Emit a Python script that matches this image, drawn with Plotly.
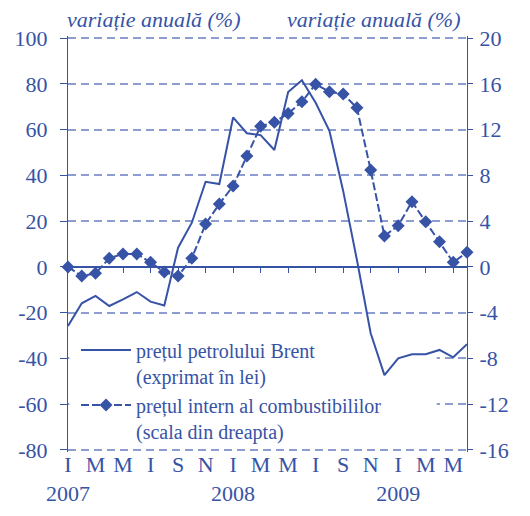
import plotly.graph_objects as go

# Months: Jan 2007 .. Jun 2009 (index 0..29)
month_idx = list(range(30))

brent = [-25.8, -15.9, -12.7, -17.1, -14.2, -11.0, -15.2, -16.9, 8.4, 19.3,
         37.2, 36.2, 65.3, 58.4, 57.6, 51.1, 76.4, 81.6, 71.7, 59.5,
         33.2, 3.0, -29.0, -47.3, -40.0, -38.2, -38.2, -36.3, -39.5, -33.8]

fuel = [0.0, -0.8, -0.56, 0.75, 1.13, 1.13, 0.4, -0.45, -0.8, 0.75,
        3.75, 5.5, 7.07, 9.69, 12.3, 12.65, 13.4, 14.43, 15.97, 15.3,
        15.1, 13.9, 8.46, 2.7, 3.6, 5.7, 3.95, 2.2, 0.4, 1.27]

x_tickvals = list(range(0, 30, 2))
x_ticktext = ["I<br>2007", "M", "M", "I", "S", "N",
              "I<br>2008", "M", "M", "I", "S", "N",
              "I<br>2009", "M", "M"]

left_vals = [100, 80, 60, 40, 20, 0, -20, -40, -60, -80]
left_text = ["100", "80", "60", "40", "20", "0", "-20", "-40", "-60", "-80"]
right_vals = [20, 16, 12, 8, 4, 0, -4, -8, -12, -16]
right_text = ["20", "16", "12", "8", "4", "0", "-4", "-8", "-12", "-16"]

name_brent = "prețul petrolului Brent<br>(exprimat în lei)"
name_fuel = "prețul intern al combustibililor<br>(scala din dreapta)"
axis_title = "variație anuală (%)"

BLUE = "#3753a6"
GRID = "#8d9cd1"
FONT = "Liberation Serif"
FS = 22
LEG_FS = 20

# small padding so the edge gridlines (100 / -80) are drawn
LPAD = 0.9
yl_range = [-80 - LPAD, 100 + LPAD]
yr_range = [-16 - LPAD / 5, 20 + LPAD / 5]
zero_pos = (0 - yl_range[0]) / (yl_range[1] - yl_range[0])

fig = go.Figure()
fig.add_trace(go.Scatter(
    x=month_idx, y=brent, name=name_brent, mode="lines",
    line=dict(color=BLUE, width=2), xaxis="x", yaxis="y"))
fig.add_trace(go.Scatter(
    x=month_idx, y=fuel, name=name_fuel, mode="lines+markers",
    line=dict(color=BLUE, width=2, dash="8px,3px"),
    marker=dict(symbol="diamond", size=10, color=BLUE),
    xaxis="x2", yaxis="y2", cliponaxis=False))

# the page body has an 8px margin, so the figure is sized to fit inside it
fig.update_layout(
    width=514, height=500,
    margin=dict(l=60, r=55, t=28, b=56, autoexpand=False),
    paper_bgcolor="white", plot_bgcolor="white",
    font=dict(family=FONT, size=FS, color=BLUE),
    showlegend=True,
    legend=dict(x=0.02, y=0.292, xanchor="left", yanchor="top",
                bgcolor="rgba(0,0,0,0)",
                font=dict(family=FONT, size=LEG_FS, color=BLUE),
                itemwidth=50, tracegroupgap=0, valign="top"),
    # white panel behind the legend: above the gridlines, below the lines
    shapes=[dict(type="rect", xref="x", yref="y",
                 x0=0.1, x1=26.8, y0=-78.5, y1=-30,
                 fillcolor="white", line=dict(width=0), layer="between")],
    xaxis=dict(range=[0, 29], tickvals=x_tickvals, ticktext=x_ticktext,
               tickangle=0, showgrid=False, showline=False, zeroline=False,
               ticks="", tickfont=dict(family=FONT, size=FS, color=BLUE),
               ticklabelstandoff=-3, automargin=False),
    xaxis2=dict(range=[0, 29], overlaying="x", anchor="free", position=zero_pos,
                side="bottom", showline=True, linecolor=BLUE, linewidth=1.2,
                ticks="outside", ticklen=5, tickcolor=BLUE, tickwidth=1,
                tickvals=x_tickvals, showticklabels=False, showgrid=False,
                zeroline=False, automargin=False),
    yaxis=dict(range=yl_range, tickvals=left_vals, ticktext=left_text,
               showgrid=True, gridcolor=GRID, griddash="8px,5px", gridwidth=1.5,
               zeroline=True, zerolinecolor=BLUE, zerolinewidth=1.2,
               showline=True, linecolor=BLUE, linewidth=1.2,
               ticks="outside", ticklen=7, tickcolor=BLUE,
               tickfont=dict(family=FONT, size=FS, color=BLUE),
               ticklabelstandoff=8, automargin=False),
    yaxis2=dict(range=yr_range, tickvals=right_vals, ticktext=right_text,
                overlaying="y", side="right", anchor="x2",
                showgrid=False, zeroline=False, showline=True, linecolor=BLUE,
                linewidth=1.2, ticks="outside", ticklen=5, tickcolor=BLUE,
                tickfont=dict(family=FONT, size=FS, color=BLUE),
                ticklabelstandoff=2, automargin=False),
    annotations=[
        dict(text="<i>" + axis_title + "</i>", xref="paper", yref="paper",
             x=-0.008, y=1.0, xanchor="left", yanchor="bottom", yshift=2,
             showarrow=False, font=dict(family=FONT, size=FS, color=BLUE)),
        dict(text="<i>" + axis_title + "</i>", xref="paper", yref="paper",
             x=0.99, y=1.0, xanchor="right", yanchor="bottom", yshift=2,
             showarrow=False, font=dict(family=FONT, size=FS, color=BLUE)),
    ],
)

fig.write_html("out.html")
